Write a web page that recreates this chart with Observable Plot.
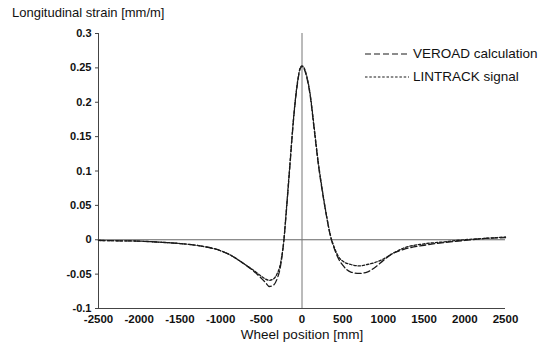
<!DOCTYPE html>
<html><head><meta charset="utf-8">
<script src="https://cdn.jsdelivr.net/npm/d3@7"></script>
<script src="https://cdn.jsdelivr.net/npm/@observablehq/plot@0.6"></script>
<style>
body{margin:0;background:#fff;}
#wrap{position:relative;width:544px;height:345px;font-family:"Liberation Sans",Arial,Helvetica,sans-serif;color:#111;}
#wrap svg{position:absolute;left:0;top:0;}
#title{position:absolute;left:12px;top:5px;font-size:13px;white-space:nowrap;}
#xlabel{position:absolute;left:0;width:604px;top:327px;text-align:center;font-size:13.5px;white-space:nowrap;}
.leg{position:absolute;left:365px;font-size:13.5px;white-space:nowrap;display:flex;align-items:center;}
.leg svg{position:static !important;margin-right:4px;}
</style></head><body>
<div id="wrap"></div>
<script>
const positions = [-2500,-2250,-2000,-1750,-1500,-1250,-1000,-900,-800,-700,-600,-500,-450,-400,-350,-300,-275,-250,-222,-200,-150,-100,-50,-25,0,25,50,100,150,200,250,300,350,400,450,500,600,700,800,900,1000,1100,1250,1500,1750,2000,2250,2500];
const veroad   = [-0.001,-0.0015,-0.002,-0.0035,-0.0055,-0.009,-0.016,-0.021,-0.028,-0.036,-0.045,-0.056,-0.062,-0.068,-0.066,-0.055,-0.045,-0.028,0,0.03,0.105,0.18,0.232,0.248,0.252,0.249,0.24,0.21,0.16,0.11,0.07,0.035,0.005,-0.014,-0.028,-0.037,-0.047,-0.049,-0.047,-0.040,-0.030,-0.021,-0.014,-0.008,-0.004,-0.001,0.002,0.003];
const lintrack = [-0.001,-0.0015,-0.002,-0.0035,-0.0055,-0.009,-0.016,-0.021,-0.028,-0.036,-0.044,-0.053,-0.057,-0.059,-0.057,-0.048,-0.040,-0.025,0,0.032,0.108,0.182,0.234,0.249,0.253,0.25,0.242,0.212,0.163,0.113,0.072,0.036,0.006,-0.012,-0.025,-0.031,-0.036,-0.038,-0.036,-0.033,-0.028,-0.021,-0.012,-0.006,-0.003,0,0.002,0.004];
const seriesNames = ["VEROAD calculation","LINTRACK signal"];
const seriesDash = ["6,3","2.5,1.8"];
const xTicks = [-2500,-2000,-1500,-1000,-500,0,500,1000,1500,2000,2500];
const yTicks = [-0.1,-0.05,0,0.05,0.1,0.15,0.2,0.25,0.3];
const titleText = "Longitudinal strain [mm/m]";
const xLabelText = "Wheel position [mm]";

const rows = positions.flatMap((p,i)=>[
  {x:p,y:veroad[i],s:seriesNames[0]},
  {x:p,y:lintrack[i],s:seriesNames[1]}
]);

const chart = Plot.plot({
  width:544, height:345,
  marginLeft:98, marginRight:39, marginTop:33, marginBottom:37,
  style:{fontFamily:'"Liberation Sans",Arial,sans-serif', color:"#111", background:"transparent"},
  x:{domain:[-2500,2500], label:null},
  y:{domain:[-0.1,0.3], label:null},
  marks:[
    Plot.ruleY([0],{stroke:"#666",strokeWidth:1}),
    Plot.ruleX([0],{stroke:"#777",strokeWidth:1}),
    Plot.ruleX([-2500],{stroke:"#444",strokeWidth:1}),
    Plot.ruleY([-0.1],{stroke:"#444",strokeWidth:1}),
    Plot.axisY({ticks:yTicks, tickFormat:d=>String(d), tickSize:3, tickPadding:4, fontSize:11, fontWeight:"bold", label:null, stroke:"#444"}),
    Plot.axisX({ticks:xTicks, tickFormat:d=>String(d), tickSize:0, tickPadding:6, fontSize:11.5, fontWeight:"bold", label:null}),
    ...seriesNames.map((n,k)=>Plot.line(rows.filter(r=>r.s===n),{x:"x",y:"y",stroke:"#1a1a1a",strokeWidth:1.3,strokeDasharray:seriesDash[k],curve:"monotone-x"}))
  ]
});
const wrap = document.getElementById("wrap");
wrap.appendChild(chart);

const t = document.createElement("div"); t.id="title"; t.textContent=titleText; wrap.appendChild(t);
const xl = document.createElement("div"); xl.id="xlabel"; xl.textContent=xLabelText; wrap.appendChild(xl);
const legTops = [46, 69];
seriesNames.forEach((n,k)=>{
  const d = document.createElement("div"); d.className="leg"; d.style.top = legTops[k]+"px";
  d.innerHTML = `<svg width="44" height="10"><line x1="0" x2="44" y1="5" y2="5" stroke="#1a1a1a" stroke-width="1.2" stroke-dasharray="${seriesDash[k]}"/></svg><span>${n}</span>`;
  wrap.appendChild(d);
});
</script>
</body></html>
